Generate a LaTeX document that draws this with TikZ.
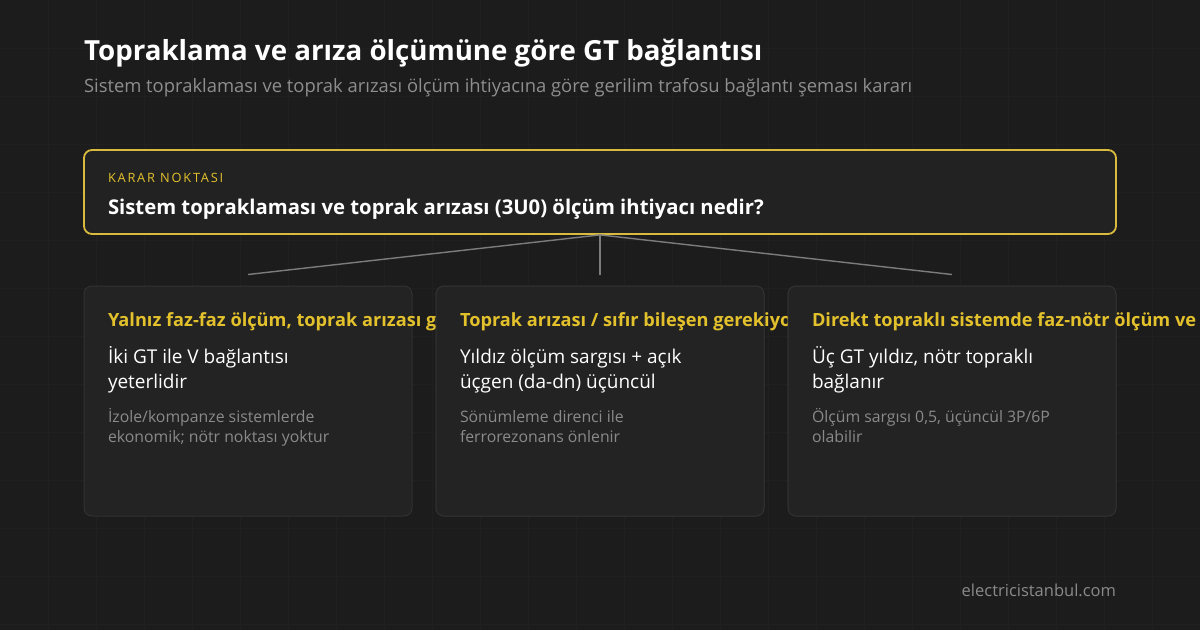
\documentclass[tikz,border=0pt]{standalone}
\usepackage{fontspec}
\setmainfont{Open Sans}
\usetikzlibrary{calc}
\definecolor{bg}{HTML}{1C1C1C}
\definecolor{gridc}{HTML}{202020}
\definecolor{yel}{HTML}{E3C12C}
\definecolor{ybord}{HTML}{D8BB3C}
\definecolor{cardf}{HTML}{232323}
\definecolor{cardb}{HTML}{313131}
\definecolor{decf}{HTML}{222222}
\definecolor{subg}{HTML}{8E8E8E}
\definecolor{noteg}{HTML}{8A8A8A}
\definecolor{linec}{HTML}{7C7C7C}
\tikzset{
  txt/.style={inner sep=0pt, outer sep=0pt, anchor=base west, align=left},
  card/.style={draw=cardb, fill=cardf, line width=1pt, rounded corners=8pt,
    minimum width=328pt, minimum height=230pt, inner sep=0pt},
  ctitle/.style={txt, text=yel, font=\fontsize{18.2}{22}\selectfont\bfseries},
  cbody/.style={txt, text=white, font=\fontsize{19}{24.5}\selectfont},
  cnote/.style={txt, text=noteg, font=\fontsize{15.8}{20}\selectfont},
  conn/.style={draw=linec, line width=1.4pt}
}
\begin{document}
\begin{tikzpicture}[x=1pt,y=-1pt]
\useasboundingbox (0,0) rectangle (1200,630);
\begin{scope}
\clip (0,0) rectangle (1200,630);
\fill[bg] (0,0) rectangle (1200,630);
\foreach \gx in {48,96,...,1152} \draw[gridc, line width=0.8pt] (\gx,0) -- (\gx,630);
\foreach \gy in {48,96,...,624} \draw[gridc, line width=0.8pt] (0,\gy) -- (1200,\gy);

\node[txt, text=white, font=\fontsize{27.7}{32}\selectfont\bfseries] (title) at (84,60)
  {Topraklama ve arıza ölçümüne göre GT bağlantısı};
\node[txt, text=subg, font=\fontsize{18.4}{22}\selectfont] (sub) at (84,92)
  {Sistem topraklaması ve toprak arızası ölçüm ihtiyacına göre gerilim trafosu bağlantı şeması kararı};

\node[draw=ybord, fill=decf, line width=1.8pt, rounded corners=8pt,
  minimum width=1032pt, minimum height=84pt, inner sep=0pt] (dec) at (600,192) {};
\node[txt, text=yel, font=\fontsize{12.8}{15}\selectfont\addfontfeatures{LetterSpace=14}] (kick) at (108,182)
  {KARAR NOKTASI};
\node[txt, text=white, font=\fontsize{20.3}{24}\selectfont\bfseries] (q) at (108,214)
  {Sistem topraklaması ve toprak arızası (3U0) ölçüm ihtiyacı nedir?};

\node[card] (c1) at (248,401) {};
\node[card] (c2) at (600,401) {};
\node[card] (c3) at (952,401) {};

\draw[conn] (dec.south) -- ([yshift=11pt]c1.north);
\draw[conn] (dec.south) -- ([yshift=11pt]c2.north);
\draw[conn] (dec.south) -- ([yshift=11pt]c3.north);

\node[ctitle] (t1) at (108,326) {Yalnız faz-faz ölçüm, toprak arızası gerekmiyor};
\node[cbody] (b1) at (108,388) {İki GT ile V bağlantısı\\yeterlidir};
\node[cnote] (n1) at (108,442) {İzole/kompanze sistemlerde\\ekonomik; nötr noktası yoktur};

\node[card] (c2b) at (600,401) {};
\node[ctitle] (t2) at (460,326) {Toprak arızası / sıfır bileşen gerekiyor};
\node[cbody] (b2) at (460,388) {Yıldız ölçüm sargısı + açık\\üçgen (da-dn) üçüncül};
\node[cnote] (n2) at (460,442) {Sönümleme direnci ile\\ferrorezonans önlenir};

\node[card] (c3b) at (952,401) {};
\node[ctitle] (t3) at (812,326) {Direkt topraklı sistemde faz-nötr ölçüm ve koruma};
\node[cbody] (b3) at (812,388) {Üç GT yıldız, nötr topraklı\\bağlanır};
\node[cnote] (n3) at (812,442) {Ölçüm sargısı 0,5, üçüncül 3P/6P\\olabilir};

\node[txt, anchor=base east, text=noteg, font=\fontsize{16.5}{20}\selectfont] (foot) at (1116,596) {electricistanbul.com};
\end{scope}
\end{tikzpicture}
\end{document}
